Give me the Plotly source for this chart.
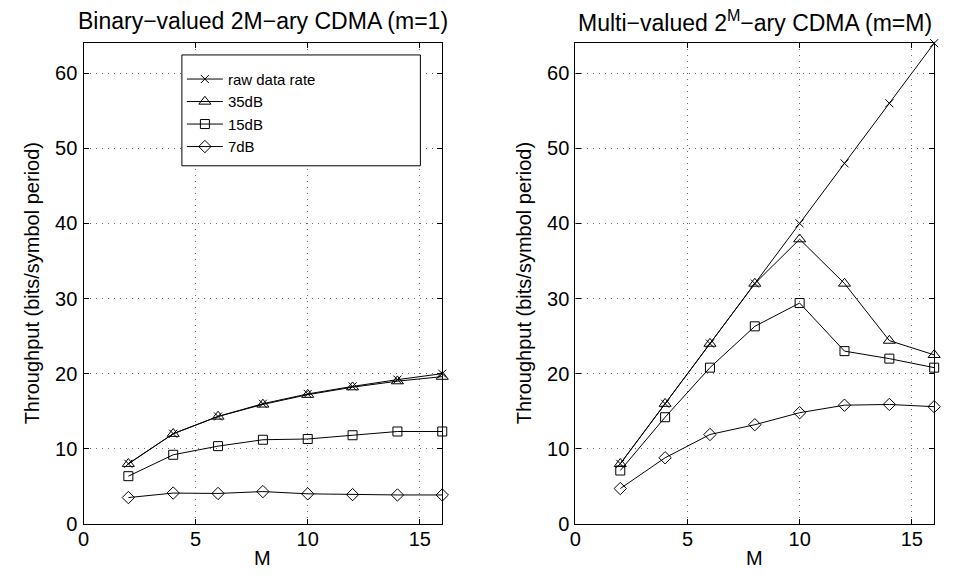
import plotly.graph_objects as go

# ---- data ----
M = [2, 4, 6, 8, 10, 12, 14, 16]

left_raw = [8, 12, 14.3, 16, 17.3, 18.3, 19.2, 20]
left_35dB = [8, 12, 14.3, 15.9, 17.2, 18.2, 19.0, 19.6]
left_15dB = [6.35, 9.2, 10.35, 11.2, 11.3, 11.8, 12.3, 12.3]
left_7dB = [3.5, 4.1, 4.05, 4.3, 4.0, 3.9, 3.85, 3.85]

right_raw = [8, 16, 24, 32, 40, 48, 56, 64]
right_35dB = [8, 16, 24, 32, 37.9, 32, 24.4, 22.5]
right_15dB = [7.1, 14.2, 20.8, 26.3, 29.4, 23.0, 22.0, 20.8]
right_7dB = [4.7, 8.8, 11.9, 13.2, 14.8, 15.8, 15.9, 15.6]

series_names = ["raw data rate", "35dB", "15dB", "7dB"]
x_ticks = [0, 5, 10, 15]
y_ticks = [0, 10, 20, 30, 40, 50, 60]

left_title = "Binary\u2212valued 2M\u2212ary CDMA (m=1)"
right_title = "Multi\u2212valued 2<sup>M</sup>\u2212ary CDMA (m=M)"
y_title = "Throughput (bits/symbol period)"
x_title = "M"

# ---- styling ----
W, H = 964, 580
FONT = "Liberation Sans, Arial, Helvetica, sans-serif"
symbols = ["x-thin-open", "triangle-up-open", "square-open", "diamond-open"]
sizes = [8, 10.5, 9, 9.5]

def px(x):
    return x / W

def py(y):
    return (H - y) / H

fig = go.Figure()

left_data = [left_raw, left_35dB, left_15dB, left_7dB]
right_data = [right_raw, right_35dB, right_15dB, right_7dB]

for i, (name, ys) in enumerate(zip(series_names, left_data)):
    fig.add_trace(go.Scatter(
        x=M, y=ys, name=name, mode="lines+markers",
        xaxis="x", yaxis="y", showlegend=True, cliponaxis=False,
        line=dict(color="black", width=1),
        marker=dict(symbol=symbols[i], size=sizes[i], color="black",
                    line=dict(color="black", width=1)),
    ))
for i, (name, ys) in enumerate(zip(series_names, right_data)):
    fig.add_trace(go.Scatter(
        x=M, y=ys, name=name, mode="lines+markers",
        xaxis="x2", yaxis="y2", showlegend=False, cliponaxis=False,
        line=dict(color="black", width=1),
        marker=dict(symbol=symbols[i], size=sizes[i], color="black",
                    line=dict(color="black", width=1)),
    ))

left_dom = [px(78), px(439)]
right_dom = [px(573), px(934)]
y_dom = [py(534), py(44)]

GRID = dict(showgrid=True, gridcolor="#6a6a6a", griddash="1px,5px", gridwidth=1)

def xaxis(domain, anchor):
    return dict(domain=domain, anchor=anchor, range=[0, 16], tickvals=x_ticks,
                ticks="inside", ticklen=5, tickcolor="black", mirror="ticks",
                showline=True, linecolor="black", linewidth=1.3,
                zeroline=False, ticklabelstandoff=-3, **GRID,
                tickfont=dict(family=FONT, size=20, color="black"))

def yaxis(anchor):
    return dict(domain=y_dom, anchor=anchor, range=[0, 64], tickvals=y_ticks,
                ticks="inside", ticklen=5, tickcolor="black", mirror="ticks",
                showline=True, linecolor="black", linewidth=1.3,
                zeroline=False, ticklabelstandoff=1, **GRID,
                tickfont=dict(family=FONT, size=20, color="black"))

fig.update_layout(
    width=W, height=H,
    margin=dict(l=0, r=0, t=0, b=0),
    paper_bgcolor="white", plot_bgcolor="white",
    xaxis=xaxis(left_dom, "y"),
    yaxis=yaxis("x"),
    xaxis2=xaxis(right_dom, "y2"),
    yaxis2=yaxis("x2"),
    legend=dict(x=px(177), y=py(64), xanchor="left", yanchor="top",
                bgcolor="rgba(0,0,0,0)", borderwidth=0, itemwidth=36,
                font=dict(family=FONT, size=15, color="black"),
                tracegroupgap=0),
    showlegend=True,
)

# legend frame (opaque, covers grid)
fig.add_shape(type="rect", xref="paper", yref="paper",
              x0=px(177), x1=px(417), y0=py(169), y1=py(56),
              line=dict(color="black", width=1), fillcolor="white", layer="above")

ann_font = dict(family=FONT, size=23, color="black")
lab_font = dict(family=FONT, size=20, color="black")
fig.add_annotation(text=left_title, x=px(258.5), y=py(21), xref="paper", yref="paper",
                   showarrow=False, xanchor="center", yanchor="middle", font=ann_font)
fig.add_annotation(text=right_title, x=px(753.5), y=py(21), xref="paper", yref="paper",
                   showarrow=False, xanchor="center", yanchor="middle", font=ann_font)
for cx in (258.5, 753.5):
    fig.add_annotation(text=x_title, x=px(cx), y=py(557), xref="paper", yref="paper",
                       showarrow=False, xanchor="center", yanchor="top",
                       borderpad=0, font=lab_font)
for cx in (26, 521):
    fig.add_annotation(text=y_title, x=px(cx), y=py(289), xref="paper", yref="paper",
                       showarrow=False, xanchor="center", yanchor="middle",
                       textangle=-90, font=lab_font)

fig.write_html("out.html")
